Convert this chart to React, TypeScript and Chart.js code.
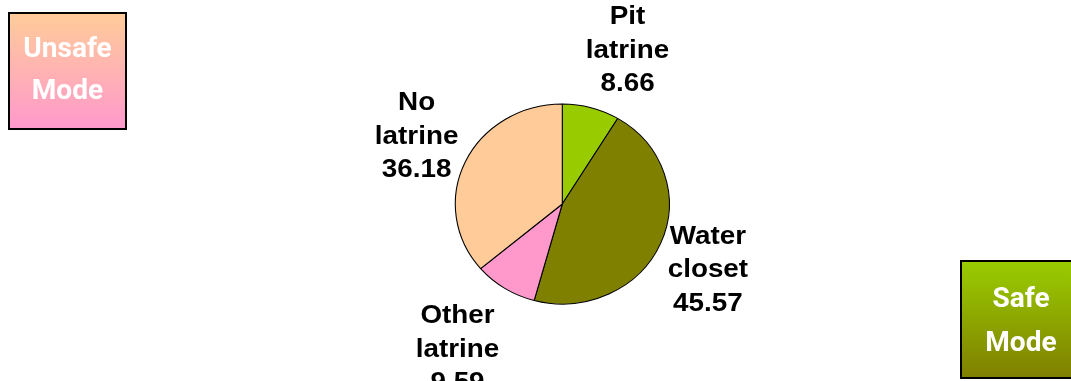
import React, { useEffect, useRef } from "react";
import { Chart, registerables } from "chart.js";

Chart.register(...registerables);

// Sanitation facility shares (percent)
const categories: string[] = ["Pit latrine", "Water closet", "Other latrine", "No latrine"];
const shares: number[] = [8.66, 45.57, 9.59, 36.18];
const sliceColors: string[] = ["#99CC00", "#808000", "#FF99CC", "#FFCC99"];

// Drawing constants
const STRETCH = 1.07; // horizontal stretch of the pie and its labels
const PIE_RADIUS = 100;
const LABEL_DIST = 1.6; // label distance from centre, in radii
const labelNudgeX: number[] = [18, -11, -12, 9];
const labelNudgeY: number[] = [-1, 1, 9, -2];
const LABEL_FONT = "bold 26px 'Liberation Sans', Arial, sans-serif";
const LINE_HEIGHT = 33.5;

const stretchPlugin = {
  id: "stretchPie",
  beforeDatasetsDraw(chart: any) {
    const { ctx, chartArea } = chart;
    const cx = (chartArea.left + chartArea.right) / 2;
    ctx.save();
    ctx.translate(cx, 0);
    ctx.scale(STRETCH, 1);
    ctx.translate(-cx, 0);
  },
  afterDatasetsDraw(chart: any) {
    chart.ctx.restore();
  },
};

const sliceLabelPlugin = {
  id: "sliceLabels",
  afterDraw(chart: any) {
    const { ctx } = chart;
    const meta = chart.getDatasetMeta(0);
    ctx.save();
    ctx.font = LABEL_FONT;
    ctx.fillStyle = "#000000";
    ctx.textAlign = "center";
    ctx.textBaseline = "alphabetic";
    meta.data.forEach((arc: any, i: number) => {
      const { x, y, startAngle, endAngle, outerRadius } = arc.getProps(
        ["x", "y", "startAngle", "endAngle", "outerRadius"],
        true
      );
      const mid = (startAngle + endAngle) / 2;
      const d = outerRadius * LABEL_DIST;
      const lx = x + (Math.cos(mid) * d + labelNudgeX[i]) * STRETCH;
      const ly = y + Math.sin(mid) * d + labelNudgeY[i];
      const lines = [...categories[i].split(" "), shares[i].toFixed(2)];
      ctx.save();
      ctx.translate(lx, ly);
      ctx.scale(STRETCH, 1);
      lines.forEach((line, k) => {
        ctx.fillText(line, 0, 9 + (k - 1) * LINE_HEIGHT);
      });
      ctx.restore();
    });
    ctx.restore();
  },
};

const boxText: React.CSSProperties = {
  color: "#ffffff",
  fontFamily: "Roboto, 'Open Sans', sans-serif",
  fontWeight: 700,
  fontSize: 27,
  lineHeight: "42px",
  textAlign: "center",
  position: "absolute",
  left: 0,
  right: 0,
  top: 13,
  transform: "scaleX(1.04)",
};

export default function App() {
  const canvasRef = useRef<HTMLCanvasElement | null>(null);

  useEffect(() => {
    const canvas = canvasRef.current;
    if (!canvas) return;
    const chart = new Chart(canvas, {
      type: "pie",
      data: {
        labels: categories,
        datasets: [
          {
            data: shares,
            backgroundColor: sliceColors,
            borderColor: "#000000",
            borderWidth: 1,
            radius: PIE_RADIUS,
          },
        ],
      },
      options: {
        responsive: false,
        maintainAspectRatio: false,
        animation: false,
        devicePixelRatio: 1,
        layout: {
          padding: { left: 462.3, right: 1071 - 662.3, top: 104, bottom: 381 - 304 },
        },
        plugins: {
          legend: { display: false },
          tooltip: { enabled: false },
          title: { display: false },
        },
      },
      plugins: [stretchPlugin, sliceLabelPlugin],
    });
    return () => chart.destroy();
  }, []);

  return (
    <div
      style={{
        position: "fixed",
        left: 0,
        top: 0,
        width: 1071,
        height: 381,
        overflow: "hidden",
        background: "#ffffff",
      }}
    >
      <canvas ref={canvasRef} width={1071} height={381} style={{ position: "absolute", left: 0, top: 0 }} />
      <div
        style={{
          position: "absolute",
          left: 8,
          top: 12,
          width: 115,
          height: 114,
          border: "2px solid #000000",
          background: "linear-gradient(to bottom, #FFCC99, #FF99CC)",
        }}
      >
        <div style={boxText}>
          Unsafe
          <br />
          Mode
        </div>
      </div>
      <div
        style={{
          position: "absolute",
          left: 960,
          top: 260,
          width: 118,
          height: 115,
          border: "2px solid #000000",
          background: "linear-gradient(to bottom, #99CC00, #808000)",
        }}
      >
        <div style={{ ...boxText, top: 14, lineHeight: "44px" }}>
          Safe
          <br />
          Mode
        </div>
      </div>
    </div>
  );
}
